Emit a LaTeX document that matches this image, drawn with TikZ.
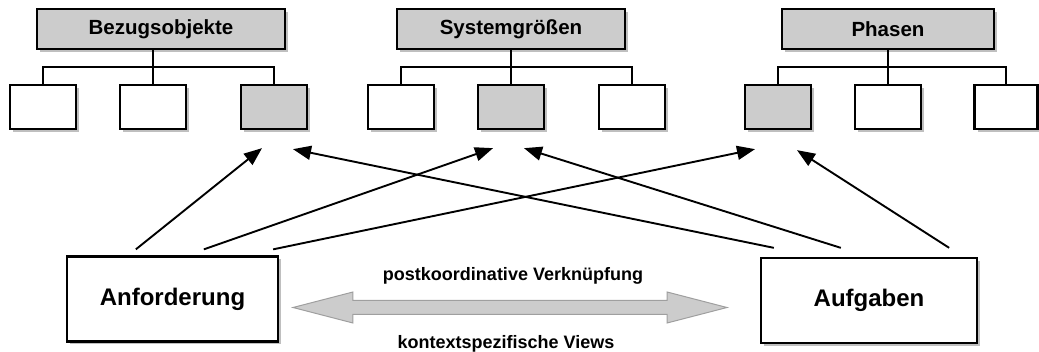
\documentclass[tikz,border=0pt]{standalone}
\usepackage{fontspec}
\setmainfont{Liberation Sans}
\usetikzlibrary{shapes,arrows,arrows.meta,shadows}

\begin{document}
\begin{tikzpicture}[
  x=1pt, y=-1pt,
  every node/.style={inner sep=0pt},
  boxshadow/.style={drop shadow={shadow xshift=3pt, shadow yshift=-3pt}},
  head/.style={
    draw, line width=2.3pt,
    fill=gray!40, boxshadow,
    minimum height=40pt,
    font=\fontsize{20.5}{24}\selectfont\bfseries},
  leaf/.style={
    draw, line width=2.3pt,
    fill=white, boxshadow,
    minimum width=66pt, minimum height=44pt},
  marked/.style={leaf, fill=gray!40},
  main/.style={
    draw, line width=2.3pt,
    fill=white, boxshadow,
    minimum height=85pt,
    font=\fontsize{24}{28}\selectfont\bfseries},
  branch/.style={line width=2.3pt},
  link/.style={line width=1.9pt, -{Triangle[length=18pt,width=14pt]}},
  caption/.style={font=\fontsize{18}{21}\selectfont\bfseries}
  ]
  \useasboundingbox (0,0) rectangle (1039,352);

  % the three hierarchies
  \node[head, minimum width=248pt] (bez) at (161,29) {Bezugsobjekte};
  \node[leaf] (bez1) at (43,107) {};
  \node[leaf] (bez2) at (153,107) {};
  \node[marked] (bez3) at (274,107) {};

  \node[head, minimum width=228pt] (sys) at (511,29) {Systemgrößen};
  \node[leaf] (sys1) at (401,107) {};
  \node[marked] (sys2) at (511,107) {};
  \node[leaf] (sys3) at (632,107) {};

  \node[head, minimum width=212pt] (pha) at (888,29) {Phasen};
  \node[marked] (pha1) at (778,107) {};
  \node[leaf] (pha2) at (888,107) {};
  \node[leaf, minimum width=63pt] (pha3) at (1006,107) {};

  \draw[branch] (bez2.north |- bez.south) -- (bez2.north);
  \draw[branch] (bez1.north) -- ++(0,-17) -| (bez3.north);
  \draw[branch] (sys.south) -- (sys2.north);
  \draw[branch] (sys1.north) -- ++(0,-17) -| (sys3.north);
  \draw[branch] (pha.south) -- (pha2.north);
  \draw[branch] (pha1.north) -- ++(0,-17) -| (pha3.north);

  % the two context objects
  \node[main, minimum width=211pt] (anf) at (172.5,299) {Anforderung};
  \node[main, minimum width=216pt] (auf) at (869,300.5) {Aufgaben};

  \node[double arrow, draw=gray!75, fill=gray!40, line width=1pt,
        minimum height=434pt, inner ysep=6.5pt,
        double arrow head extend=8.5pt, double arrow tip angle=29,
        shape border rotate=0] (verkn) at (510,307.5) {};
  \node[caption] (post) at (513,276) {postkoordinative Verknüpfung};
  \node[caption] (views) at (506,344) {kontextspezifische Views};

  \draw[link] ([xshift=70pt,yshift=6pt]anf.north west) -- ([xshift=-12pt,yshift=-18pt]bez3.south);
  \draw[link] ([xshift=138pt,yshift=6pt]anf.north west) -- ([xshift=-18pt,yshift=-18pt]sys2.south);
  \draw[link] ([xshift=-6pt,yshift=6pt]anf.north east) -- ([xshift=-23pt,yshift=-19pt]pha1.south);
  \draw[link] ([xshift=14pt,yshift=9pt]auf.north west) -- ([xshift=19pt,yshift=-19pt]bez3.south);
  \draw[link] ([xshift=81pt,yshift=9pt]auf.north west) -- ([xshift=13pt,yshift=-18pt]sys2.south);
  \draw[link] ([xshift=-29pt,yshift=9pt]auf.north east) -- ([xshift=19pt,yshift=-20pt]pha1.south);
\end{tikzpicture}
\end{document}
